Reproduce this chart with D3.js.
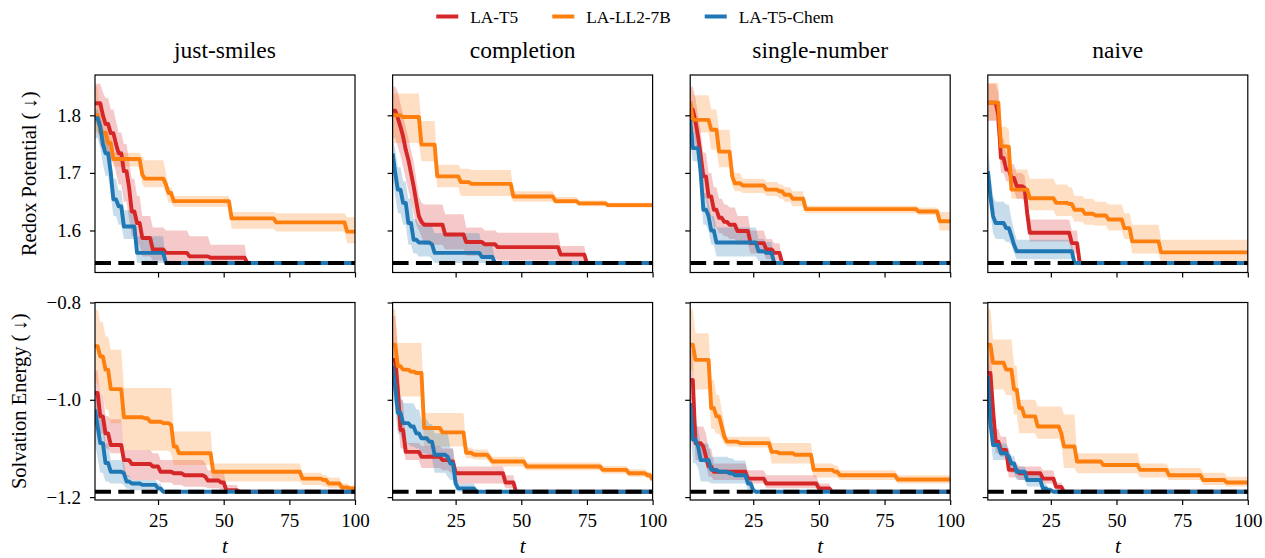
<!DOCTYPE html>
<html>
<head>
<meta charset="utf-8">
<script src="https://cdn.jsdelivr.net/npm/d3@7"></script>
<style>
  body { margin: 0; background: #fff; }
  svg { display: block; font-family: "Liberation Serif", "Times New Roman", serif; }
  svg text { font-family: "Liberation Serif", "Times New Roman", serif; }
</style>
</head>
<body>
<svg id="chart" width="1265" height="558"></svg>
<script>
const methods = ["LA-T5", "LA-LL2-7B", "LA-T5-Chem"];
const colors = ["#d62728", "#ff7f0e", "#1f77b4"];
const tasks = ["just-smiles", "completion", "single-number", "naive"];
const objectives = ["Redox Potential (\u2009\u2193)", "Solvation Energy (\u2009\u2193)"];
const bestFound = [1.5435, -1.189];
const xTicks = [25, 50, 75, 100];
const yTicksRedox = [1.6, 1.7, 1.8];
const yTicksSolv = [-1.2, -1.0, -0.8];

// change points: [t, mean, lower, upper] -- value is held until the next t
// ---- redox potential ----
const redoxT5JustSmiles = [[1,1.821,1.785,1.855],[4,1.800,1.76,1.84],[5,1.785,1.74,1.83],[7,1.769,1.72,1.81],[9,1.750,1.70,1.79],[10,1.734,1.68,1.77],[12,1.703,1.65,1.75],[14,1.674,1.62,1.72],[15,1.633,1.59,1.69],[17,1.613,1.575,1.66],[19,1.587,1.555,1.625],[23,1.567,1.548,1.605],[28,1.561,1.546,1.60],[37,1.555,1.544,1.59],[45,1.5525,1.5435,1.575],[59,1.5435]];
const redoxLL2JustSmiles = [[1,1.800,1.77,1.85],[3,1.770,1.745,1.80],[6,1.752,1.73,1.775],[8,1.724,1.711,1.735],[19,1.697,1.68,1.727],[20,1.690,1.675,1.722],[28,1.680,1.665,1.70],[29,1.665,1.648,1.675],[31,1.651,1.641,1.66],[53,1.621,1.603,1.632],[70,1.614,1.598,1.630],[97,1.598,1.578,1.623]];
const redoxChemJustSmiles = [[1,1.795,1.76,1.81],[3,1.780,1.745,1.80],[4,1.750,1.715,1.78],[5,1.734,1.695,1.76],[7,1.700,1.66,1.73],[8,1.654,1.625,1.69],[10,1.642,1.61,1.67],[12,1.607,1.585,1.635],[17,1.561,1.5435,1.59],[28,1.5435]];

const redoxT5Completion = [[1,1.808,1.76,1.85],[3,1.795,1.745,1.84],[4,1.780,1.73,1.82],[5,1.763,1.71,1.80],[6,1.740,1.69,1.78],[7,1.723,1.67,1.76],[8,1.700,1.65,1.74],[9,1.677,1.63,1.72],[10,1.650,1.61,1.69],[11,1.625,1.60,1.66],[12,1.615,1.59,1.648],[13,1.610,1.575,1.645],[21,1.593,1.567,1.628],[29,1.580,1.556,1.605],[36,1.576,1.552,1.60],[41,1.571,1.548,1.596],[65,1.558,1.5435,1.573],[75,1.5435]];
const redoxLL2Completion = [[1,1.800,1.752,1.838],[5,1.797,1.752,1.838],[12,1.749,1.72,1.79],[18,1.694,1.675,1.714],[27,1.684,1.66,1.707],[31,1.681,1.66,1.705],[47,1.659,1.650,1.668],[63,1.651,1.646,1.658],[72,1.647,1.642,1.652],[83,1.644,1.640,1.648]];
const redoxChemCompletion = [[1,1.734,1.69,1.76],[2,1.700,1.66,1.74],[3,1.671,1.63,1.71],[5,1.648,1.61,1.685],[7,1.613,1.575,1.655],[9,1.584,1.56,1.62],[11,1.579,1.555,1.61],[16,1.576,1.55,1.607],[17,1.561,1.5435,1.595],[35,1.554,1.5435,1.575],[40,1.5435]];

const redoxT5SingleNumber = [[1,1.810,1.77,1.85],[3,1.789,1.75,1.83],[4,1.763,1.72,1.80],[5,1.730,1.69,1.77],[6,1.694,1.655,1.735],[8,1.659,1.625,1.70],[10,1.636,1.605,1.675],[12,1.622,1.595,1.655],[14,1.615,1.59,1.645],[16,1.610,1.585,1.64],[19,1.599,1.575,1.625],[24,1.578,1.56,1.60],[30,1.567,1.55,1.585],[33,1.561,1.548,1.578],[36,1.5435]];
const redoxLL2SingleNumber = [[1,1.824,1.79,1.855],[2,1.792,1.77,1.835],[9,1.775,1.74,1.81],[12,1.737,1.71,1.775],[17,1.694,1.678,1.71],[18,1.682,1.668,1.70],[21,1.678,1.665,1.69],[30,1.671,1.66,1.684],[35,1.668,1.655,1.68],[37,1.662,1.65,1.675],[40,1.655,1.642,1.668],[45,1.637,1.630,1.643],[88,1.633,1.627,1.64],[96,1.616,1.60,1.632]];
const redoxChemSingleNumber = [[1,1.792,1.75,1.805],[2,1.743,1.72,1.77],[5,1.700,1.665,1.74],[6,1.636,1.61,1.665],[8,1.625,1.60,1.65],[9,1.600,1.575,1.625],[11,1.579,1.555,1.605],[27,1.564,1.547,1.585],[30,1.561,1.545,1.58],[33,1.5435]];

const redoxT5Naive = [[1,1.822,1.79,1.855],[5,1.800,1.76,1.84],[6,1.726,1.70,1.76],[8,1.706,1.685,1.735],[10,1.691,1.67,1.715],[12,1.677,1.655,1.70],[15,1.674,1.65,1.695],[16,1.630,1.605,1.66],[17,1.596,1.581,1.619],[33,1.578,1.56,1.60],[36,1.5435]];
const redoxLL2Naive = [[1,1.822,1.792,1.856],[6,1.746,1.715,1.78],[9,1.745,1.72,1.775],[10,1.671,1.655,1.706],[17,1.656,1.635,1.69],[27,1.648,1.625,1.68],[32,1.646,1.625,1.675],[34,1.636,1.615,1.66],[38,1.629,1.61,1.655],[42,1.626,1.608,1.65],[47,1.619,1.60,1.645],[53,1.604,1.585,1.63],[56,1.581,1.56,1.61],[67,1.562,1.5435,1.584]];
const redoxChemNaive = [[1,1.703,1.665,1.743],[2,1.660,1.63,1.70],[3,1.625,1.595,1.66],[4,1.613,1.585,1.65],[8,1.604,1.58,1.645],[10,1.590,1.575,1.62],[11,1.575,1.56,1.60],[12,1.564,1.55,1.584],[34,1.5435]];

// ---- solvation energy ----
const solvT5JustSmiles = [[1,-0.986,-1.034,-0.94],[3,-1.034,-1.07,-0.99],[5,-1.069,-1.10,-1.034],[7,-1.093,-1.11,-1.04],[12,-1.124,-1.158,-1.103],[15,-1.132,-1.165,-1.103],[23,-1.137,-1.165,-1.11],[26,-1.148,-1.17,-1.124],[31,-1.151,-1.175,-1.124],[35,-1.155,-1.179,-1.124],[43,-1.158,-1.179,-1.13],[44,-1.166,-1.182,-1.145],[49,-1.170,-1.185,-1.15],[51,-1.186,-1.189,-1.175],[56,-1.189]];
const solvLL2JustSmiles = [[1,-0.890,-0.966,-0.815],[3,-0.911,-0.99,-0.84],[5,-0.938,-1.02,-0.87],[7,-0.978,-1.048,-0.897],[12,-1.036,-1.103,-0.976],[20,-1.038,-1.103,-0.976],[22,-1.045,-1.105,-0.976],[27,-1.048,-1.105,-0.976],[30,-1.052,-1.11,-0.976],[31,-1.096,-1.134,-1.065],[33,-1.110,-1.134,-1.065],[46,-1.148,-1.168,-1.131],[80,-1.162,-1.175,-1.15],[88,-1.165,-1.178,-1.155],[90,-1.172,-1.182,-1.16],[95,-1.180,-1.186,-1.172],[98,-1.182,-1.189,-1.176]];
const solvChemJustSmiles = [[1,-1.020,-1.089,-0.966],[2,-1.055,-1.12,-1.0],[3,-1.089,-1.15,-1.03],[5,-1.130,-1.168,-1.09],[7,-1.148,-1.172,-1.124],[12,-1.151,-1.175,-1.13],[13,-1.168,-1.183,-1.155],[15,-1.172,-1.186,-1.165],[19,-1.175,-1.186,-1.165],[25,-1.182,-1.189,-1.172],[27,-1.189]];

const solvT5Completion = [[1,-0.918,-0.98,-0.828],[3,-0.980,-1.04,-0.90],[4,-1.062,-1.10,-1.0],[6,-1.107,-1.124,-1.089],[12,-1.117,-1.14,-1.095],[20,-1.124,-1.145,-1.10],[23,-1.127,-1.15,-1.10],[25,-1.151,-1.172,-1.137],[44,-1.170,-1.182,-1.155],[48,-1.189]];
const solvLL2Completion = [[1,-0.887,-0.966,-0.814],[3,-0.931,-0.993,-0.883],[5,-0.938,-0.993,-0.883],[8,-0.942,-0.993,-0.883],[10,-0.945,-0.993,-0.883],[13,-1.058,-1.096,-1.027],[20,-1.067,-1.096,-1.027],[29,-1.109,-1.12,-1.098],[32,-1.113,-1.123,-1.102],[38,-1.120,-1.13,-1.11],[39,-1.127,-1.137,-1.117],[52,-1.137,-1.145,-1.129],[81,-1.144,-1.152,-1.136],[91,-1.151,-1.158,-1.143],[98,-1.155,-1.162,-1.148],[100,-1.165,-1.17,-1.16]];
const solvChemCompletion = [[1,-0.931,-0.98,-0.90],[2,-0.973,-1.02,-0.94],[3,-1.027,-1.07,-0.99],[5,-1.048,-1.09,-1.007],[8,-1.055,-1.096,-1.007],[10,-1.069,-1.10,-1.02],[12,-1.079,-1.11,-1.04],[15,-1.086,-1.12,-1.05],[17,-1.113,-1.15,-1.069],[22,-1.117,-1.158,-1.069],[23,-1.131,-1.165,-1.10],[25,-1.172,-1.185,-1.155],[26,-1.182,-1.189,-1.172],[33,-1.189]];

const solvT5SingleNumber = [[1,-0.959,-1.0,-0.897],[3,-1.089,-1.124,-1.055],[6,-1.096,-1.124,-1.055],[7,-1.117,-1.135,-1.07],[8,-1.137,-1.158,-1.10],[10,-1.148,-1.165,-1.131],[23,-1.162,-1.172,-1.145],[30,-1.172,-1.182,-1.155],[50,-1.182,-1.189,-1.172],[55,-1.189]];
const solvLL2SingleNumber = [[1,-0.887,-0.938,-0.814],[3,-0.918,-0.979,-0.863],[9,-1.017,-1.06,-0.959],[11,-1.034,-1.07,-0.99],[13,-1.055,-1.08,-1.02],[14,-1.076,-1.09,-1.05],[15,-1.086,-1.096,-1.076],[20,-1.089,-1.098,-1.076],[32,-1.107,-1.131,-1.089],[35,-1.110,-1.131,-1.089],[41,-1.113,-1.131,-1.089],[48,-1.144,-1.16,-1.131],[56,-1.148,-1.16,-1.135],[58,-1.155,-1.165,-1.145],[80,-1.164,-1.172,-1.155]];
const solvChemSingleNumber = [[1,-1.007,-1.048,-0.966],[2,-1.082,-1.13,-1.04],[4,-1.096,-1.14,-1.06],[5,-1.124,-1.168,-1.09],[9,-1.144,-1.172,-1.117],[12,-1.148,-1.172,-1.117],[16,-1.151,-1.172,-1.12],[18,-1.155,-1.172,-1.125],[23,-1.172,-1.186,-1.158],[25,-1.186,-1.189,-1.18],[26,-1.189]];

const solvT5Naive = [[1,-0.945,-1.0,-0.89],[3,-1.021,-1.06,-0.98],[4,-1.086,-1.11,-1.06],[6,-1.103,-1.117,-1.076],[9,-1.144,-1.16,-1.13],[13,-1.151,-1.165,-1.137],[22,-1.162,-1.172,-1.145],[27,-1.179,-1.189,-1.17],[30,-1.189]];
const solvLL2Naive = [[1,-0.887,-0.966,-0.814],[3,-0.924,-0.979,-0.876],[8,-0.938,-0.99,-0.876],[11,-0.979,-1.03,-0.93],[13,-1.017,-1.069,-1.0],[15,-1.034,-1.069,-1.0],[20,-1.055,-1.08,-1.014],[29,-1.069,-1.09,-1.014],[30,-1.096,-1.14,-1.03],[35,-1.127,-1.151,-1.11],[45,-1.134,-1.151,-1.11],[59,-1.144,-1.16,-1.131],[70,-1.155,-1.165,-1.14],[83,-1.165,-1.175,-1.15],[92,-1.170,-1.178,-1.158]];
const solvChemNaive = [[1,-0.952,-1.0,-0.9],[2,-1.048,-1.08,-1.0],[3,-1.093,-1.124,-1.082],[6,-1.110,-1.124,-1.09],[9,-1.117,-1.13,-1.1],[10,-1.131,-1.15,-1.115],[12,-1.148,-1.165,-1.137],[16,-1.165,-1.178,-1.15],[22,-1.182,-1.189,-1.172],[24,-1.186,-1.189,-1.18],[26,-1.189]];

// rows = objectives, columns = tasks, each cell = [T5, LL2, Chem]
const grid = [
  [[redoxT5JustSmiles, redoxLL2JustSmiles, redoxChemJustSmiles],
   [redoxT5Completion, redoxLL2Completion, redoxChemCompletion],
   [redoxT5SingleNumber, redoxLL2SingleNumber, redoxChemSingleNumber],
   [redoxT5Naive, redoxLL2Naive, redoxChemNaive]],
  [[solvT5JustSmiles, solvLL2JustSmiles, solvChemJustSmiles],
   [solvT5Completion, solvLL2Completion, solvChemCompletion],
   [solvT5SingleNumber, solvLL2SingleNumber, solvChemSingleNumber],
   [solvT5Naive, solvLL2Naive, solvChemNaive]]
];

// hold each change point until the next one (best-so-far curve)
function steps(knots) {
  const out = [];
  let k = 0;
  for (let t = 1; t <= 100; t++) {
    while (k + 1 < knots.length && knots[k + 1][0] <= t) k++;
    const r = knots[k];
    out.push({t: t, m: r[1], lo: r.length > 2 ? r[2] : r[1], hi: r.length > 2 ? r[3] : r[1]});
  }
  return out;
}

const FONT = "'Liberation Serif', 'Times New Roman', serif";
const svg = d3.select("#chart");
const panelW = 260, panelH = 197.5;
const lefts = [95, 392.6, 690.2, 987.8];
const tops = [75, 302.5];
const yDomains = [[1.527, 1.870], [-1.206, -0.800]];
const yTicks = [yTicksRedox, yTicksSolv];
const ylabelX = [36, 26];

const x = d3.scaleLinear().domain([1, 100]).range([0, panelW]);

grid.forEach((row, ri) => {
  const y = d3.scaleLinear().domain(yDomains[ri]).range([panelH, 0]);
  row.forEach((cell, ci) => {
    const g = svg.append("g").attr("transform", `translate(${lefts[ci]},${tops[ri]})`);
    const clipId = `clip-${ri}-${ci}`;
    g.append("clipPath").attr("id", clipId)
      .append("rect").attr("width", panelW).attr("height", panelH);
    const plot = g.append("g").attr("clip-path", `url(#${clipId})`);

    const series = cell.map(steps);

    const area = d3.area().x(d => x(d.t)).y0(d => y(d.lo)).y1(d => y(d.hi));
    const line = d3.line().x(d => x(d.t)).y(d => y(d.m));

    series.forEach((s, si) => {
      plot.append("path").attr("d", area(s))
        .attr("fill", colors[si]).attr("fill-opacity", 0.25).attr("stroke", "none");
    });
    series.forEach((s, si) => {
      plot.append("path").attr("d", line(s))
        .attr("fill", "none").attr("stroke", colors[si])
        .attr("stroke-width", 3.9).attr("stroke-linejoin", "round");
    });

    // best value in the dataset
    plot.append("line")
      .attr("x1", x(1)).attr("x2", x(100))
      .attr("y1", y(bestFound[ri])).attr("y2", y(bestFound[ri]))
      .attr("stroke", "#000").attr("stroke-width", 4)
      .attr("stroke-dasharray", "16,7.3");

    // axes
    const yAxis = d3.axisLeft(y).tickValues(yTicks[ri]).tickSize(5).tickPadding(9)
      .tickFormat(ci === 0 ? d3.format(".1f") : () => "");
    const xAxis = d3.axisBottom(x).tickValues(xTicks).tickSize(5).tickPadding(9)
      .tickFormat(ri === 1 ? d3.format("d") : () => "");

    const ya = g.append("g").call(yAxis);
    const xa = g.append("g").attr("transform", `translate(0,${panelH})`).call(xAxis);
    [ya, xa].forEach(a => {
      a.attr("font-family", FONT).attr("font-size", 19);
      a.select(".domain").remove();
      a.selectAll("line").attr("stroke", "#000").attr("stroke-width", 1.2);
      a.selectAll("text").attr("fill", "#000");
    });

    g.append("rect").attr("width", panelW).attr("height", panelH)
      .attr("fill", "none").attr("stroke", "#000").attr("stroke-width", 1.2);

    if (ri === 0) {
      g.append("text").attr("x", panelW / 2).attr("y", -17)
        .attr("text-anchor", "middle").attr("font-size", 23.5).text(tasks[ci]);
    } else {
      g.append("text").attr("x", panelW / 2).attr("y", panelH + 53)
        .attr("text-anchor", "middle").attr("font-size", 21)
        .attr("font-style", "italic").text("t");
    }
  });

  svg.append("text")
    .attr("transform", `translate(${ylabelX[ri]},${tops[ri] + panelH / 2}) rotate(-90)`)
    .attr("text-anchor", "middle").attr("font-size", 20.5)
    .text(objectives[ri]);
});

// legend
const legend = svg.append("g");
let lx = 0;
methods.forEach((m, i) => {
  const item = legend.append("g").attr("transform", `translate(${lx},0)`);
  item.append("line").attr("x1", 0).attr("x2", 22).attr("y1", 16.5).attr("y2", 16.5)
    .attr("stroke", colors[i]).attr("stroke-width", 4);
  const txt = item.append("text").attr("x", 34).attr("y", 23)
    .attr("font-size", 17.3).text(m);
  lx += 34 + txt.node().getComputedTextLength() + 34;
});
const legendW = lx - 34;
legend.attr("transform", `translate(${635 - legendW / 2},0)`);
</script>
</body>
</html>
